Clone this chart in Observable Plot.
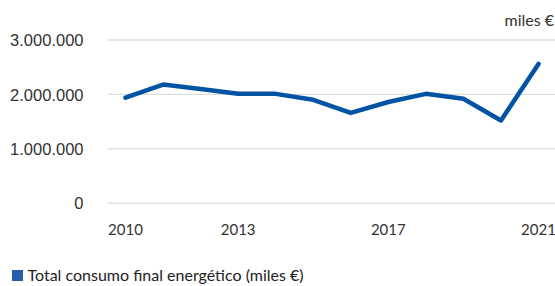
<!DOCTYPE html>
<html>
<head>
<meta charset="utf-8">
<script src="https://cdn.jsdelivr.net/npm/d3@7"></script>
<script src="https://cdn.jsdelivr.net/npm/@observablehq/plot@0.6"></script>
<style>
  body { margin: 0; background: #fff; font-family: Lato, "Open Sans", sans-serif; }
  #wrap { position: relative; width: 555px; height: 286px; overflow: hidden; }
  #chart { position: absolute; left: 0; top: 0; }
  #unit { position: absolute; right: 1px; top: 10px; font-size: 16px; line-height: 20px; color: #333; white-space: nowrap; }
  #legend { position: absolute; left: 12px; top: 264px; font-size: 16px; line-height: 22px; color: #222; display: flex; align-items: center; white-space: nowrap; }
  #legend span.sw { width: 10.5px; height: 11px; background: #2a5cad; display: inline-block; margin-right: 5px; }
</style>
</head>
<body>
<div id="wrap">
  <div id="chart"></div>
  <div id="unit">miles €</div>
  <div id="legend"><span class="sw"></span>Total consumo final energético (miles €)</div>
</div>
<script>
const years = [2010, 2011, 2012, 2013, 2014, 2015, 2016, 2017, 2018, 2019, 2020, 2021];
const values = [1940000, 2180000, 2100000, 2010000, 2010000, 1900000, 1660000, 1860000, 2010000, 1920000, 1520000, 2560000];
const xTicks = [2010, 2013, 2017, 2021];
const yTicks = [0, 1000000, 2000000, 3000000];

const data = years.map((y, i) => ({year: y, value: values[i]}));
const fmt = d => d3.format(",")(d).replace(/,/g, ".");

const chart = Plot.plot({
  width: 555,
  height: 245,
  marginLeft: 108,
  marginRight: 0,
  marginTop: 39.5,
  marginBottom: 42.3,
  style: {fontFamily: "Lato, 'Open Sans', sans-serif", fontSize: "15px", color: "#333", overflow: "visible"},
  x: {domain: [2010, 2021], range: [125, 538]},
  y: {domain: [0, 3000000]},
  marks: [
    Plot.ruleY(yTicks, {stroke: "#dddddd", strokeWidth: 1.3}),
    Plot.axisY({ticks: yTicks, tickFormat: fmt, tickSize: 0, tickPadding: 25, label: null, fontSize: 16.5, fontFamily: "'Liberation Sans', Arial, sans-serif", dy: 1}),
    Plot.axisX({ticks: xTicks, tickFormat: d => String(d), tickSize: 0, tickPadding: 21, label: null, fontSize: 15}),
    Plot.line(data, {x: "year", y: "value", stroke: "#0353a4", strokeWidth: 4.5, strokeLinejoin: "round", strokeLinecap: "round"})
  ]
});
document.getElementById("chart").appendChild(chart);
</script>
</body>
</html>
